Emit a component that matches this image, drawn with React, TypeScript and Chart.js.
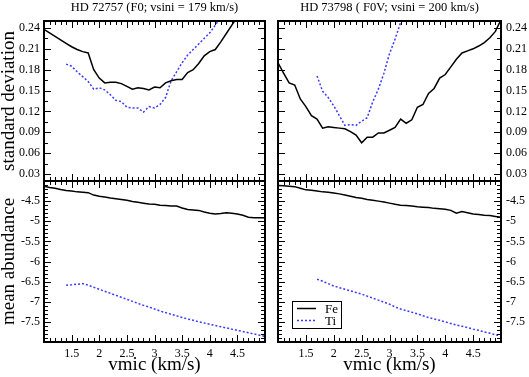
import React, { useEffect, useRef } from 'react';
import { Chart, registerables } from 'chart.js';

Chart.register(...registerables);

const FONT = '"Liberation Serif", "Times New Roman", serif';

// micro-turbulence grid (km/s)
const vmic = [1.0, 1.1, 1.2, 1.3, 1.4, 1.5, 1.6, 1.7, 1.8, 1.9, 2.0, 2.1, 2.2, 2.3, 2.4, 2.5, 2.6, 2.7, 2.8, 2.9, 3.0, 3.1, 3.2, 3.3, 3.4, 3.5, 3.6, 3.7, 3.8, 3.9, 4.0, 4.1, 4.2, 4.3, 4.4, 4.5, 4.6, 4.7, 4.8, 4.9, 5.0];

const xTicks = [1.5, 2, 2.5, 3, 3.5, 4, 4.5];
const sdTicks = [0.03, 0.06, 0.09, 0.12, 0.15, 0.18, 0.21, 0.24];
const abTicks = [-4.5, -5, -5.5, -6, -6.5, -7, -7.5];

const titleA = 'HD 72757 (F0; vsini = 179 km/s)';
const titleB = 'HD 73798 ( F0V; vsini = 200 km/s)';
const labelFe = 'Fe';
const labelTi = 'Ti';

// HD 72757 standard deviation (Fe from 1.0, Ti from 1.4)
const sdFeA = [0.238, 0.233, 0.228, 0.223, 0.218, 0.213, 0.209, 0.206, 0.204, 0.180, 0.168, 0.161, 0.162, 0.162, 0.160, 0.156, 0.152, 0.154, 0.153, 0.151, 0.155, 0.154, 0.161, 0.164, 0.166, 0.166, 0.176, 0.180, 0.189, 0.200, 0.206, 0.209, 0.220, 0.232, 0.244, 0.256, 0.268];
const sdTiA = [0.188, 0.185, 0.177, 0.170, 0.163, 0.152, 0.154, 0.151, 0.144, 0.136, 0.134, 0.126, 0.125, 0.125, 0.119, 0.127, 0.125, 0.130, 0.140, 0.164, 0.177, 0.190, 0.201, 0.209, 0.217, 0.225, 0.233, 0.244, 0.256];

// HD 73798 standard deviation (Fe from 1.0, Ti from 1.7)
const sdFeB = [0.190, 0.175, 0.161, 0.158, 0.138, 0.127, 0.114, 0.109, 0.096, 0.098, 0.097, 0.096, 0.095, 0.091, 0.086, 0.075, 0.083, 0.083, 0.089, 0.089, 0.093, 0.097, 0.109, 0.103, 0.108, 0.126, 0.130, 0.146, 0.153, 0.168, 0.173, 0.184, 0.195, 0.204, 0.207, 0.210, 0.214, 0.219, 0.226, 0.235, 0.252];
const sdTiB = [0.171, 0.149, 0.140, 0.128, 0.114, 0.100, 0.101, 0.100, 0.106, 0.111, 0.134, 0.152, 0.175, 0.203, 0.224, 0.248, 0.270];

// HD 72757 mean abundance (Fe from 1.0, Ti from 1.4)
const abFeA = [-4.13, -4.16, -4.18, -4.21, -4.235, -4.25, -4.27, -4.28, -4.29, -4.35, -4.38, -4.395, -4.42, -4.44, -4.46, -4.48, -4.51, -4.53, -4.55, -4.57, -4.58, -4.60, -4.61, -4.62, -4.62, -4.67, -4.71, -4.72, -4.73, -4.77, -4.80, -4.82, -4.81, -4.79, -4.80, -4.82, -4.85, -4.90, -4.91, -4.91, -4.91];
const abTiA = [-6.59, -6.58, -6.565, -6.55, -6.59, -6.64, -6.69, -6.74, -6.79, -6.84, -6.89, -6.94, -6.99, -7.04, -7.09, -7.13, -7.18, -7.23, -7.27, -7.31, -7.35, -7.39, -7.43, -7.46, -7.50, -7.53, -7.56, -7.59, -7.62, -7.65, -7.68, -7.71, -7.74, -7.77, -7.80, -7.83, -7.86];

// HD 73798 mean abundance (Fe from 1.0, Ti from 1.7)
const abFeB = [-4.11, -4.12, -4.13, -4.14, -4.18, -4.22, -4.23, -4.25, -4.27, -4.28, -4.30, -4.32, -4.35, -4.38, -4.41, -4.43, -4.46, -4.48, -4.50, -4.52, -4.55, -4.58, -4.60, -4.61, -4.62, -4.64, -4.65, -4.66, -4.68, -4.69, -4.70, -4.73, -4.80, -4.76, -4.79, -4.82, -4.83, -4.85, -4.86, -4.88, -4.90];
const abTiB = [-6.44, -6.49, -6.55, -6.61, -6.65, -6.69, -6.73, -6.77, -6.81, -6.86, -6.91, -6.96, -7.01, -7.06, -7.13, -7.18, -7.22, -7.26, -7.30, -7.35, -7.39, -7.43, -7.46, -7.50, -7.54, -7.58, -7.61, -7.64, -7.68, -7.71, -7.75, -7.78, -7.82, -7.85];

const pts = (ys: number[], start: number) => ys.map((y, i) => ({ x: vmic[start + i], y }));

const framePlugin = {
  id: 'frameTicks',
  afterDatasetsDraw(chart: any, _args: any, opts: any) {
    const { ctx, chartArea: a, scales } = chart;
    const xs = scales.x;
    const ys = scales.y;
    ctx.save();
    ctx.strokeStyle = '#000';
    ctx.lineWidth = 1;
    const isMajor = (v: number, major: number) => Math.abs(v / major - Math.round(v / major)) < 1e-6;
    const eps = 1e-9;
    {
      const n0 = Math.ceil((xs.min + eps) / opts.xMinor);
      const n1 = Math.floor((xs.max - eps) / opts.xMinor);
      for (let i = n0; i <= n1; i++) {
        const v = i * opts.xMinor;
        const len = isMajor(v, opts.xMajor) ? 7 : 4;
        const px = Math.round(xs.getPixelForValue(v)) + 0.5;
        ctx.beginPath();
        ctx.moveTo(px, a.top);
        ctx.lineTo(px, a.top + len);
        ctx.moveTo(px, a.bottom);
        ctx.lineTo(px, a.bottom - len);
        ctx.stroke();
      }
    }
    {
      const n0 = Math.ceil((ys.min + eps) / opts.yMinor);
      const n1 = Math.floor((ys.max - eps) / opts.yMinor);
      for (let i = n0; i <= n1; i++) {
        const v = i * opts.yMinor;
        const len = isMajor(v, opts.yMajor) ? 7 : 4;
        const py = Math.round(ys.getPixelForValue(v)) + 0.5;
        ctx.beginPath();
        ctx.moveTo(a.left, py);
        ctx.lineTo(a.left + len, py);
        ctx.moveTo(a.right, py);
        ctx.lineTo(a.right - len, py);
        ctx.stroke();
      }
    }
    ctx.lineWidth = 2;
    ctx.strokeRect(a.left, a.top, a.right - a.left, a.bottom - a.top);
    ctx.restore();
  },
};

const panelTitlePlugin = {
  id: 'panelTitle',
  afterDraw(chart: any, _args: any, opts: any) {
    if (!opts || !opts.text) return;
    const { ctx, chartArea: a } = chart;
    ctx.save();
    ctx.font = `12.5px ${FONT}`;
    ctx.fillStyle = '#000';
    ctx.textAlign = 'center';
    ctx.textBaseline = 'alphabetic';
    ctx.fillText(opts.text, (a.left + a.right) / 2, a.top - 10.5);
    ctx.restore();
  },
};

const boxLegendPlugin = {
  id: 'boxLegend',
  afterDraw(chart: any, _args: any, opts: any) {
    if (!opts || !opts.show) return;
    const { ctx, chartArea: a } = chart;
    const x0 = a.left + 14;
    const y0 = a.bottom - 41;
    const w = 49;
    const h = 27;
    ctx.save();
    ctx.fillStyle = '#fff';
    ctx.fillRect(x0, y0, w, h);
    ctx.strokeStyle = '#000';
    ctx.lineWidth = 1;
    ctx.strokeRect(x0 + 0.5, y0 + 0.5, w, h);
    chart.data.datasets.forEach((ds: any, i: number) => {
      const yy = y0 + 7.5 + i * 12;
      ctx.beginPath();
      ctx.strokeStyle = ds.borderColor;
      ctx.lineWidth = ds.borderWidth;
      ctx.setLineDash(ds.borderDash || []);
      ctx.moveTo(x0 + 5, yy);
      ctx.lineTo(x0 + 24, yy);
      ctx.stroke();
      ctx.setLineDash([]);
      ctx.fillStyle = '#000';
      ctx.font = `13px ${FONT}`;
      ctx.textAlign = 'left';
      ctx.textBaseline = 'middle';
      ctx.fillText(ds.label, x0 + 33, yy + 1);
    });
    ctx.restore();
  },
};

type PanelSpec = {
  fe: { x: number; y: number }[];
  ti: { x: number; y: number }[];
  kind: 'sd' | 'ab';
  side: 'left' | 'right';
  title?: string;
  legend?: boolean;
};

function makeConfig(p: PanelSpec): any {
  const isTop = p.kind === 'sd';
  const isLeft = p.side === 'left';
  const tickFont = { family: FONT, size: 12 };
  const titleFont = { family: FONT, size: 19, lineHeight: 1 };
  return {
    type: 'line',
    data: {
      datasets: [
        { label: labelFe, data: p.fe, borderColor: '#000', borderWidth: 1.5, pointRadius: 0, fill: false, tension: 0 },
        { label: labelTi, data: p.ti, borderColor: '#3a3aff', borderWidth: 1.5, borderDash: [2, 2], pointRadius: 0, fill: false, tension: 0 },
      ],
    },
    options: {
      responsive: false,
      animation: false,
      events: [],
      layout: {
        padding: {
          left: isLeft ? 0 : 278,
          right: isLeft ? 264 : 0,
          top: isTop ? 21 : 181,
          bottom: isTop ? 196 : 0,
        },
      },
      scales: {
        x: {
          type: 'linear',
          min: 1,
          max: 5,
          display: !isTop,
          position: 'bottom',
          afterFit: (s: any) => { s.height = isTop ? 0 : 35; },
          afterBuildTicks: (s: any) => { s.ticks = xTicks.map((v) => ({ value: v })); },
          grid: { display: false, drawTicks: false },
          border: { display: false },
          ticks: { padding: 5, color: '#000', font: tickFont, autoSkip: false, maxRotation: 0, callback: (v: number) => String(v) },
          title: { display: true, text: 'vmic (km/s)', color: '#000', font: titleFont, padding: { top: 0, bottom: 2 } },
        },
        y: {
          type: 'linear',
          min: isTop ? 0.02 : -8,
          max: isTop ? 0.25 : -4,
          position: p.side,
          afterFit: (s: any) => { s.width = isLeft ? 44 : 28; },
          afterBuildTicks: (s: any) => { s.ticks = (isTop ? sdTicks : abTicks).map((v) => ({ value: v })); },
          grid: { display: false, drawTicks: false },
          border: { display: false },
          ticks: {
            padding: isLeft ? 4 : 5,
            color: '#000',
            font: tickFont,
            autoSkip: false,
            callback: (v: number) => (isTop ? v.toFixed(2) : String(v)),
          },
          title: {
            display: isLeft,
            text: isTop ? 'standard deviation' : 'mean abundance',
            color: '#000',
            font: titleFont,
            padding: { top: 0, bottom: 0 },
          },
        },
      },
      plugins: {
        legend: { display: false },
        tooltip: { enabled: false },
        title: { display: false },
        frameTicks: {
          xMinor: 0.1,
          xMajor: 0.5,
          yMinor: isTop ? 0.015 : 0.1,
          yMajor: isTop ? 0.03 : 0.5,
        },
        panelTitle: { text: p.title || '' },
        boxLegend: { show: !!p.legend },
      },
    },
    plugins: [framePlugin, panelTitlePlugin, boxLegendPlugin],
  };
}

function Panel({ spec }: { spec: PanelSpec }) {
  const ref = useRef<HTMLCanvasElement | null>(null);
  useEffect(() => {
    if (!ref.current) return;
    const chart = new Chart(ref.current, makeConfig(spec));
    return () => chart.destroy();
  }, []);
  return (
    <canvas
      ref={ref}
      width={529}
      height={377}
      style={{ position: 'absolute', left: 0, top: 0, width: 529, height: 377 }}
    />
  );
}

const panels: PanelSpec[] = [
  { fe: pts(sdFeA, 0), ti: pts(sdTiA, 4), kind: 'sd', side: 'left', title: titleA },
  { fe: pts(sdFeB, 0), ti: pts(sdTiB, 7), kind: 'sd', side: 'right', title: titleB },
  { fe: pts(abFeA, 0), ti: pts(abTiA, 4), kind: 'ab', side: 'left' },
  { fe: pts(abFeB, 0), ti: pts(abTiB, 7), kind: 'ab', side: 'right', legend: true },
];

export default function App() {
  return (
    <div style={{ position: 'absolute', left: 0, top: 0, width: 529, height: 377, background: '#fff' }}>
      {panels.map((p, i) => (
        <Panel key={i} spec={p} />
      ))}
    </div>
  );
}
